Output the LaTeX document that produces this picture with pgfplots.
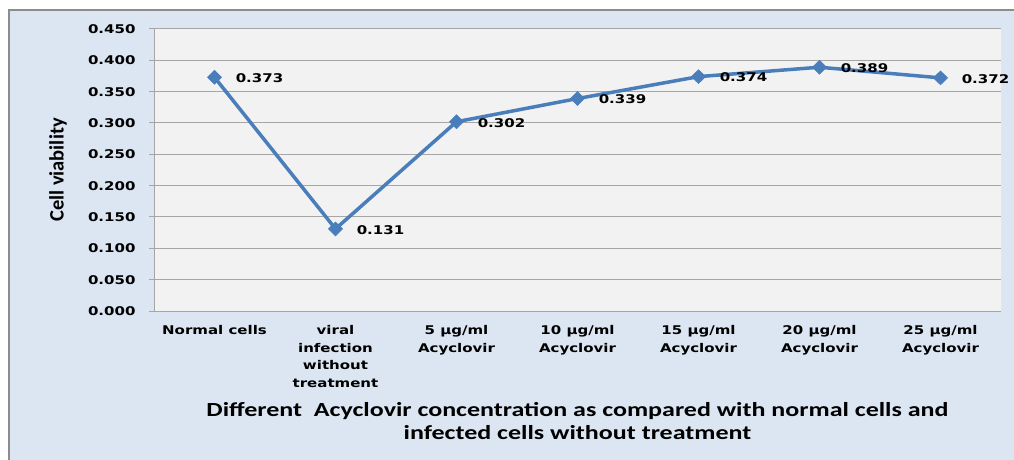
\documentclass[border=0pt]{standalone}
\usepackage{fontspec}
\usepackage{pgfplots}
\pgfplotsset{compat=1.18}
\setmainfont{DejaVu Sans}
\newfontfamily\tickfont{DejaVu Sans}[FakeStretch=1.25]
\newfontfamily\calfont{Carlito}[FakeStretch=1.3]
\newfontfamily\ylabfont{Carlito}
\definecolor{bgblue}{HTML}{DCE6F2}
\definecolor{plotgray}{HTML}{F2F2F2}
\definecolor{gridgray}{HTML}{A6A6A6}
\definecolor{framegray}{HTML}{8C8C8C}
\definecolor{lineblue}{HTML}{4A7EBB}
\begin{document}
\begin{tikzpicture}
\useasboundingbox (0bp,0bp) rectangle (1014bp,460bp);
\fill[white] (0bp,0bp) rectangle (1014bp,460bp);
\fill[bgblue] (9bp,0bp) rectangle (1014bp,450bp);
\draw[framegray,line width=2bp] (9bp,0bp) -- (9bp,450bp) -- (1014bp,450bp);
\begin{axis}[
  at={(154bp,149bp)}, anchor=south west,
  scale only axis, width=847bp, height=282bp,
  xmin=0.5, xmax=7.5, ymin=0, ymax=0.45,
  axis background/.style={fill=plotgray},
  axis x line*=bottom, axis y line*=left,
  axis line style={gridgray, line width=1bp},
  ytick={0,0.05,...,0.451},
  ymajorgrids, grid style={gridgray, line width=1bp},
  yticklabel style={/pgf/number format/.cd, fixed, fixed zerofill, precision=3, assume math mode=true},
  tick label style={font=\tickfont\bfseries\fontsize{12bp}{17.5bp}\selectfont, text=black},
  ytick style={gridgray, line width=1bp},
  tick align=outside, major tick length=5bp,
  yticklabel shift=10bp,
  xtick={1,...,7},
  xtick style={draw=none},
  xticklabels={Normal cells, {viral\\infection\\without\\treatment}, {5 µg/ml\\Acyclovir}, {10 µg/ml\\Acyclovir}, {15 µg/ml\\Acyclovir}, {20 µg/ml\\Acyclovir}, {25 µg/ml\\Acyclovir}},
  xticklabel style={align=center, yshift=-6bp},
  extra x ticks={0.5,1.5,...,7.5},
  extra x tick labels={},
  extra x tick style={grid=none, tick style={draw=gridgray, line width=1bp}, major tick length=5bp},
  xlabel={Different\ \ Acyclovir concentration as compared with normal cells and\\infected cells without treatment},
  xlabel style={font=\calfont\bfseries\fontsize{20bp}{23bp}\selectfont, align=center, at={(axis description cs:0.5,0)}, anchor=center, yshift=-110bp},
  ylabel={Cell viability},
  ylabel style={font=\ylabfont\bfseries\fontsize{20.5bp}{24bp}\selectfont, at={(axis description cs:0,0.5)}, anchor=center, yshift=96bp},
  clip=false,
]
\addplot[lineblue, line width=3.5bp, mark=diamond*, mark size=7bp, mark options={fill=lineblue, draw=lineblue, line width=0.5bp, xscale=1.35},
  nodes near coords={\pgfmathprintnumber[fixed, fixed zerofill, precision=3, assume math mode=true]{\pgfplotspointmeta}},
  point meta=y,
  every node near coord/.append style={anchor=west, xshift=21bp, yshift=-1bp, inner sep=0pt, font=\tickfont\bfseries\fontsize{12bp}{14bp}\selectfont, text=black}]
  coordinates {(1,0.373) (2,0.131) (3,0.302) (4,0.339) (5,0.374) (6,0.389) (7,0.372)};
\end{axis}
\end{tikzpicture}
\end{document}
